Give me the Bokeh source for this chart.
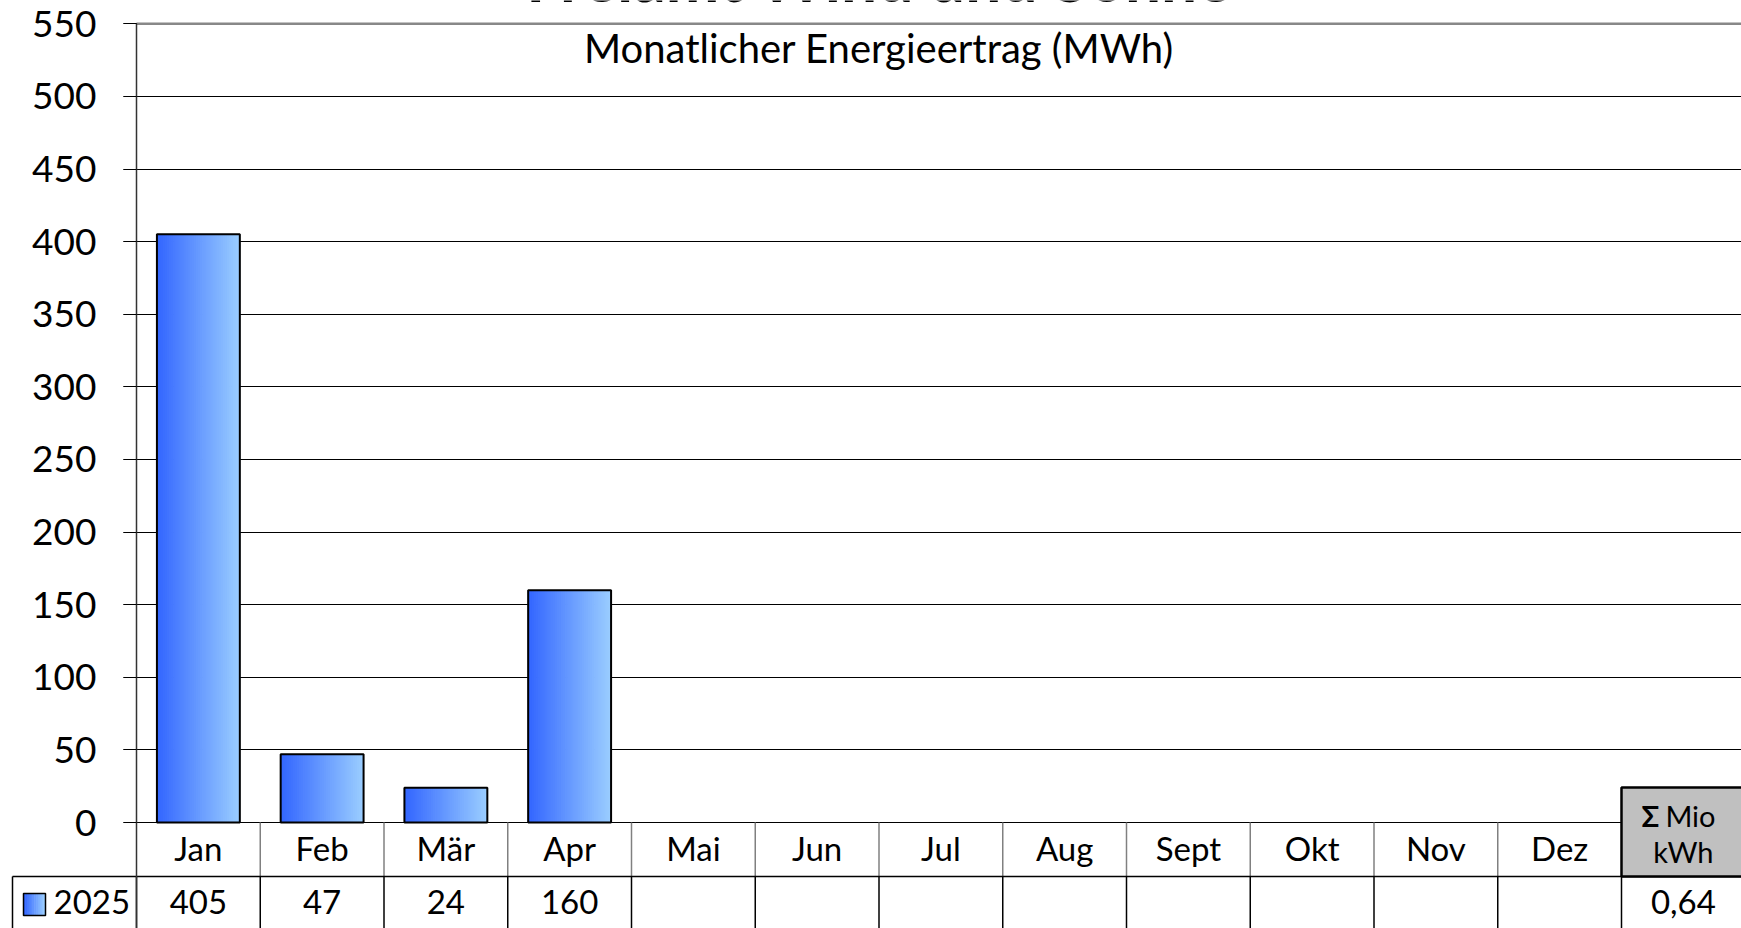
from bokeh.plotting import figure
from bokeh.models import Range1d, FixedTicker, ColumnDataSource, Label
from bokeh.core.properties import value
from bokeh.embed import file_html
from bokeh.resources import INLINE

# ---------------- data ----------------
months = ["Jan", "Feb", "Mär", "Apr", "Mai", "Jun", "Jul", "Aug", "Sept", "Okt", "Nov", "Dez"]
series_name = "2025"
energy_mwh = [405, 47, 24, 160, None, None, None, None, None, None, None, None]
y_ticks = [0, 50, 100, 150, 200, 250, 300, 350, 400, 450, 500, 550]
title = "Freiamt Wind und Sonne"
subtitle = "Monatlicher Energieertrag (MWh)"
sum_symbol = "Σ"
sum_unit_line1 = "Mio"
sum_unit_line2 = "kWh"

# ---------------- layout / style ----------------
FONT = "Lato"
W, H = 1741, 928
PX_X = 123.75          # px per x unit (one table column)
PX_Y = 1.4522          # px per MWh
AXIS_PX = 136          # page x of the y axis
ZERO_PX = 822          # page y of the zero line
BORDER_L, BORDER_T = 10, 0
X0 = -0.5 - (AXIS_PX - BORDER_L) / PX_X
X1 = X0 + (W - BORDER_L) / PX_X
Y1 = (ZERO_PX - BORDER_T) / PX_Y
Y0 = -(H - ZERO_PX) / PX_Y

def py(page_y):
    return (ZERO_PX - page_y) / PX_Y

def px(page_x):
    return -0.5 + (page_x - AXIS_PX) / PX_X

ROW1_BOT = py(876)      # bottom of month label row
ROW_LABEL_Y = py(847)
ROW_VAL_Y = py(901)
SUM_BOX_TOP = py(787)
BAR_W = 0.67
C_DARK = (51, 102, 255)
C_LIGHT = (153, 204, 255)

def grad_color(t):
    r, g, b = (round(C_DARK[i] + (C_LIGHT[i] - C_DARK[i]) * t) for i in range(3))
    return "#%02x%02x%02x" % (r, g, b)

p = figure(width=W, height=H, output_backend="svg", toolbar_location=None,
           x_range=Range1d(X0, X1), y_range=Range1d(Y0, Y1),
           min_border_left=BORDER_L, min_border_right=0,
           min_border_top=BORDER_T, min_border_bottom=0)
p.outline_line_color = None
p.background_fill_color = "white"
p.border_fill_color = "white"
p.xaxis.visible = False
p.xgrid.visible = False

# y axis placed at the table's column boundary
p.yaxis.fixed_location = -0.5
p.yaxis.ticker = FixedTicker(ticks=y_ticks)
p.yaxis.bounds = (Y0, y_ticks[-1])
p.yaxis.major_tick_out = 13
p.yaxis.major_tick_in = 0
p.yaxis.minor_tick_line_color = None
p.yaxis.major_tick_line_color = "black"
p.yaxis.axis_line_color = "#333333"
p.yaxis.axis_line_width = 1.5
p.yaxis.major_label_text_font = FONT
p.yaxis.major_label_text_font_size = "37px"
p.yaxis.major_label_text_color = "black"
p.yaxis.major_label_standoff = 27

p.ygrid.ticker = FixedTicker(ticks=y_ticks)
p.ygrid.grid_line_color = "black"
p.ygrid.grid_line_width = 1
p.ygrid.cross_bounds = (-0.5 - 13 / PX_X, X1 + 1)

# top border of the plot area (slightly heavier, gray)
p.segment(x0=[-0.5], x1=[X1 + 1], y0=[y_ticks[-1]], y1=[y_ticks[-1]],
          line_color="#888888", line_width=2.5)

xs = list(range(len(months)))
bar_x = [x for x, v in zip(xs, energy_mwh) if v is not None]
bar_v = [v for v in energy_mwh if v is not None]

# gradient bars (horizontal gradient built from thin strips)
N = 40
sx, stop, scol = [], [], []
for j in range(N):
    off = -BAR_W / 2 + (j + 0.5) * BAR_W / N
    for x, v in zip(bar_x, bar_v):
        sx.append(x + off)
        stop.append(v)
        scol.append(grad_color(j / (N - 1)))
p.vbar(x="x", top="top", bottom=0, width=BAR_W / N * 1.4, fill_color="c", line_color=None,
       source=ColumnDataSource(dict(x=sx, top=stop, c=scol)))
p.vbar(x=bar_x, top=bar_v, bottom=0, width=BAR_W, fill_color=None, line_color="black", line_width=2)

# ---------- data table under the chart ----------
p.segment(x0=[x + 0.5 for x in xs[:-1]], x1=[x + 0.5 for x in xs[:-1]],
          y0=0, y1=ROW1_BOT, line_color="#808080", line_width=1.5)
sep = [x - 0.5 for x in xs] + [xs[-1] + 0.5] + [px(12)]
p.segment(x0=sep, x1=sep, y0=ROW1_BOT, y1=Y0 - 5, line_color="black", line_width=1.5)
p.segment(x0=[px(12)], x1=[X1 + 1], y0=ROW1_BOT, y1=ROW1_BOT, line_color="black", line_width=1.5)

p.text(x=xs, y=ROW_LABEL_Y, text=months, text_font=value(FONT), text_font_size="33px",
       text_align="center", text_baseline="middle", text_color="black")
p.text(x=bar_x, y=ROW_VAL_Y, text=[str(v) for v in bar_v], text_font=value(FONT),
       text_font_size="33px", text_align="center", text_baseline="middle", text_color="black")

# legend cell
sq_x = px(34)
sq_w = 22 / PX_X
sq_h = 22 / PX_Y
M = 12
lx = [sq_x - sq_w / 2 + (j + 0.5) * sq_w / M for j in range(M)]
p.rect(x=lx, y=py(904), width=sq_w / M * 1.3, height=sq_h,
       fill_color=[grad_color(j / (M - 1)) for j in range(M)], line_color=None)
p.rect(x=[sq_x], y=py(904), width=sq_w, height=sq_h, fill_color=None,
       line_color="black", line_width=1.5)
p.text(x=[px(53)], y=ROW_VAL_Y, text=[series_name], text_font=value(FONT),
       text_font_size="33px", text_align="left", text_baseline="middle", text_color="black")

# sum column
sum_x = len(months)
total = sum(bar_v) / 1000
p.quad(left=[sum_x - 0.5], right=[X1 + 1], top=[SUM_BOX_TOP], bottom=[ROW1_BOT],
       fill_color="#C0C0C0", line_color="black", line_width=2.5)
p.text(x=[sum_x], y=[py(815)], text=[sum_symbol], x_offset=-24, text_font=value(FONT),
       text_font_size="29px", text_font_style="bold", text_align="right",
       text_baseline="middle", text_color="black")
p.text(x=[sum_x], y=[py(815)], text=[sum_unit_line1], x_offset=-18, text_font=value(FONT),
       text_font_size="29px", text_align="left", text_baseline="middle", text_color="black")
p.text(x=[sum_x], y=[py(851)], text=[sum_unit_line2], text_font=value(FONT),
       text_font_size="29px", text_align="center", text_baseline="middle", text_color="black")
p.text(x=[sum_x], y=ROW_VAL_Y, text=[f"{total:.2f}".replace(".", ",")], text_font=value(FONT),
       text_font_size="33px", text_align="center", text_baseline="middle", text_color="black")

# subtitle
p.text(x=[(len(months) - 1) / 2], y=[py(47)], text=[subtitle], text_font=value(FONT),
       text_font_size="40px", text_align="center", text_baseline="middle", text_color="black")

# main title (cut at the top edge, as in the original)
p.add_layout(Label(x=(len(months) - 1) / 2, y=py(-23), text=title, text_font=FONT,
                   text_font_size="64px", text_font_style="bold", text_align="center",
                   text_baseline="alphabetic", text_color="black"))

open("out.html", "w").write(file_html(p, INLINE))
